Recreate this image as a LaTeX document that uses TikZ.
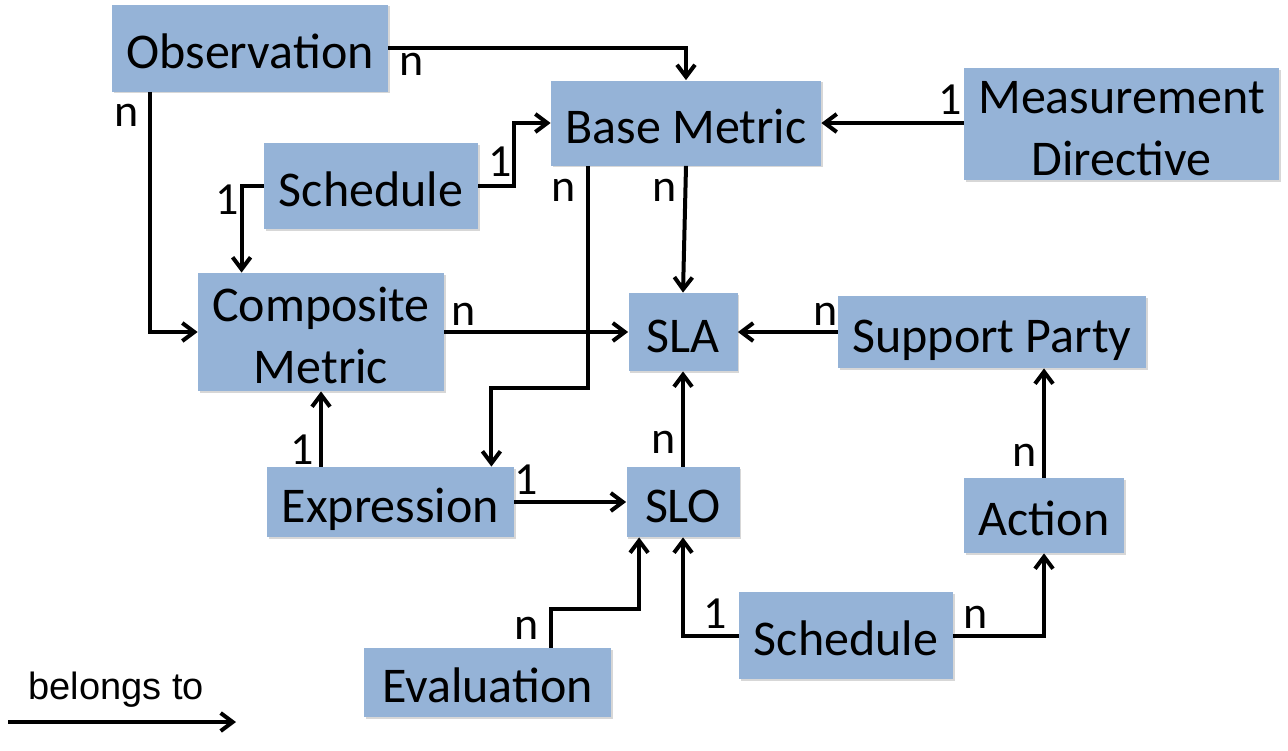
\documentclass[tikz,border=0pt]{standalone}
\usepackage{fontspec}
\setmainfont{Carlito}
\newfontfamily\legendfont{Liberation Sans}
\usepackage{tikz}
\usetikzlibrary{positioning, arrows.meta, calc, shadows}
\definecolor{boxblue}{RGB}{149,179,215}

\tikzset{
  entity/.style={fill=boxblue, inner sep=0pt, align=center,
                 font=\fontsize{25}{31}\selectfont, text height=22pt, text depth=2pt,
                 drop shadow={shadow xshift=0.8pt, shadow yshift=-0.8pt, fill=black!45, opacity=0.35}},
  twoline/.style={text height=53pt},
  link/.style={line width=2pt, -{Straight Barb[length=6pt,width=9pt]}},
  mult/.style={inner sep=0pt, font=\fontsize{23}{23}\selectfont},
}

\begin{document}
\begin{tikzpicture}[x=0.5pt,y=0.5pt,yscale=-1,xscale=1]
\useasboundingbox (0,0) rectangle (1288,750);

% Boxes
\node[entity, minimum width=138pt, minimum height=43.5pt] (obs) at (250,48) {Observation};
\node[entity, minimum width=135pt, minimum height=42.5pt] (base) at (686,123) {Base Metric};
\node[entity, twoline, minimum width=157.5pt, minimum height=56pt] (meas) at (1121.5,124) {Measurement\\Directive};
\node[entity, minimum width=107pt, minimum height=43pt] (sched1) at (371,186) {Schedule};
\node[entity, twoline, minimum width=123pt, minimum height=59pt] (comp) at (321,332) {Composite\\Metric};
\node[entity, minimum width=54.5pt, minimum height=39pt] (sla) at (683,332) {SLA};
\node[entity, minimum width=154pt, minimum height=36pt] (supp) at (992,332) {Support Party};
\node[entity, minimum width=123.5pt, minimum height=35pt] (expr) at (390.5,502) {Expression};
\node[entity, minimum width=56.5pt, minimum height=35pt] (slo) at (683,502) {SLO};
\node[entity, minimum width=80pt, minimum height=37.5pt] (action) at (1044,515.5) {Action};
\node[entity, minimum width=107pt, minimum height=43.5pt] (sched2) at (846,635.5) {Schedule};
\node[entity, minimum width=123.5pt, minimum height=34.5pt] (eval) at (487.5,682.5) {Evaluation};

% Connectors
\draw[link] (obs.east) -| (base.north);
\draw[link] ($(obs.south west)+(38,0)$) |- (comp.west);
\draw[link] (sched1.east) -- ++(36,0) |- (base.west);
\draw[link] (sched1.west) -| ($(comp.north west)+(44,0)$);
\draw[link] (meas.west |- base.east) -- (base.east);
\draw[link] (base.south) -- (sla.north);
\draw[link] ($(base.south west)+(37,0)$) -- ++(0,222) -| ($(expr.north east)+(-23,0)$);
\draw[link] (comp.east) -- (sla.west);
\draw[link] (supp.west) -- (sla.east);
\draw[link] (expr.north -| comp.south) -- (comp.south);
\draw[link] (expr.east) -- (slo.west);
\draw[link] (slo.north) -- (sla.south);
\draw[link] ($(eval.north west)+(187,0)$) -- ++(0,-39) -| ($(slo.south west)+(13,0)$);
\draw[link] (sched2.west) -| (slo.south);
\draw[link] (sched2.east) -| (action.south);
\draw[link] (action.north) -- (action.north |- supp.south);

% Multiplicities
\node[mult] (m1) at (412,64.5) {n};
\node[mult] (m2) at (127,115.5) {n};
\node[mult] (m3) at (500,162) {1};
\node[mult] (m4) at (227,200) {1};
\node[mult] (m5) at (564,190) {n};
\node[mult] (m6) at (665,190) {n};
\node[mult] (m7) at (950,100) {1};
\node[mult] (m8) at (464,314.5) {n};
\node[mult] (m9) at (826,314) {n};
\node[mult] (m10) at (302,450) {1};
\node[mult] (m11) at (526,479.5) {1};
\node[mult] (m12) at (664,442.5) {n};
\node[mult] (m13) at (1025,455.5) {n};
\node[mult] (m14) at (527,628) {n};
\node[mult] (m15) at (715,614) {1};
\node[mult] (m16) at (976,617.5) {n};

% Legend
\node[anchor=base west, inner sep=0pt, font=\legendfont\fontsize{19}{19}\selectfont] (legtext) at (28,699) {belongs to};
\coordinate (leg1) at (8,722);
\coordinate (leg2) at (236,722);
\draw[link] (leg1) -- (leg2);

\end{tikzpicture}
\end{document}
